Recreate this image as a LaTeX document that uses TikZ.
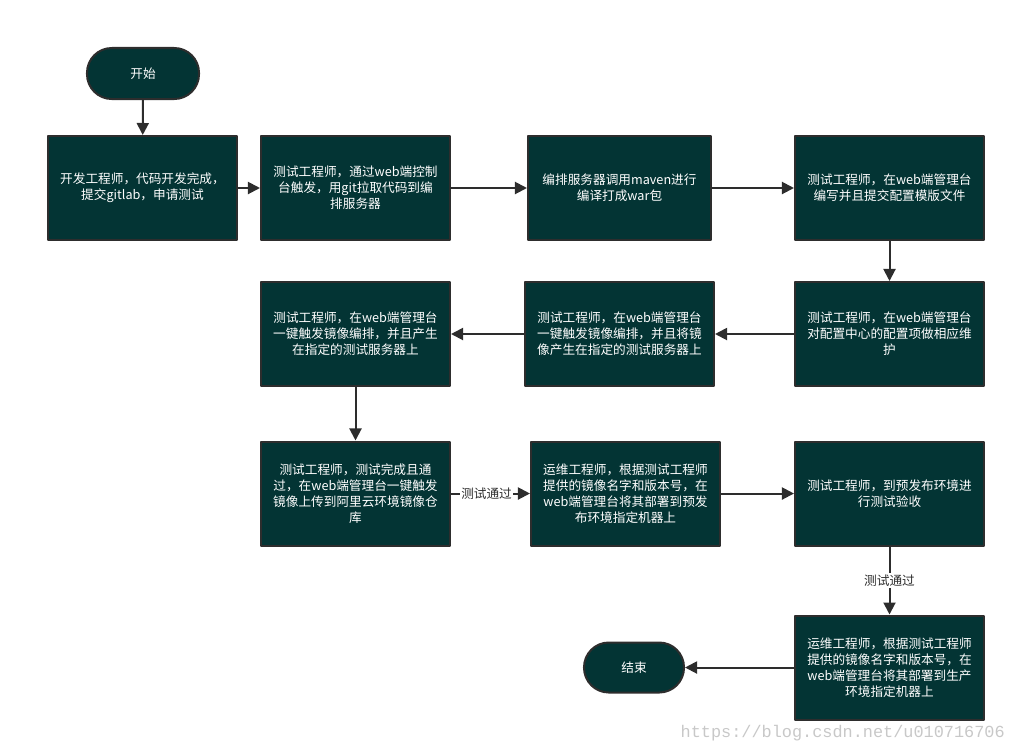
\documentclass[tikz,border=0pt]{standalone}
\usepackage{fontspec}
\newfontfamily\cjk{Noto Sans CJK SC}
\newfontfamily\wmfont{Liberation Mono}
\usetikzlibrary{arrows.meta}
\definecolor{boxfill}{RGB}{3,52,52}
\definecolor{boxline}{RGB}{45,45,45}
\definecolor{wmgrey}{RGB}{200,200,200}

\begin{document}
\begin{tikzpicture}[x=0.025cm, y=-0.025cm, font=\cjk\fontsize{9}{11.4}\selectfont, line join=round,
    >={Triangle[length=3mm, width=3mm]},
    stepbox/.style={draw=boxline, fill=boxfill, line width=0.5mm, text=white, align=center,
        minimum width=4.725cm, minimum height=2.6cm, inner sep=0pt},
    termbox/.style={stepbox, rounded corners=0.62cm, minimum width=2.8cm, minimum height=1.275cm},
    flow/.style={->, draw=boxline, line width=0.5mm},
    passlabel/.style={fill=white, text=boxline, inner sep=1pt}]
    \useasboundingbox (0,0) rectangle (1016,752);
    % row 1
    \node[termbox] (start) at (143,73.5) {开始};
    \node[stepbox] (dev) at (142.5,188) {开发工程师，代码开发完成，\\提交gitlab，申请测试};
    \node[stepbox] (pull) at (355.5,188) {测试工程师，通过web端控制\\台触发，用git拉取代码到编\\排服务器};
    \node[stepbox, minimum width=4.575cm] (build) at (619.5,188) {编排服务器调用maven进行\\编译打成war包};
    \node[stepbox] (tpl) at (889.5,188) {测试工程师，在web端管理台\\编写并且提交配置模版文件};
    % row 2
    \node[stepbox] (cfg) at (889.5,334) {测试工程师，在web端管理台\\对配置中心的配置项做相应维\\护};
    \node[stepbox] (img) at (619.5,334) {测试工程师，在web端管理台\\一键触发镜像编排，并且将镜\\像产生在指定的测试服务器上};
    \node[stepbox] (imgtest) at (355.5,334) {测试工程师，在web端管理台\\一键触发镜像编排，并且产生\\在指定的测试服务器上};
    % row 3
    \node[stepbox] (push) at (355.5,493.5) {测试工程师，测试完成且通\\过，在web端管理台一键触发\\镜像上传到阿里云环境镜像仓\\库};
    \node[stepbox] (predeploy) at (625.5,493.5) {运维工程师，根据测试工程师\\提供的镜像名字和版本号，在\\web端管理台将其部署到预发\\布环境指定机器上};
    \node[stepbox] (accept) at (889.5,493.5) {测试工程师，到预发布环境进\\行测试验收};
    % row 4
    \node[stepbox] (deploy) at (889.5,667.5) {运维工程师，根据测试工程师\\提供的镜像名字和版本号，在\\web端管理台将其部署到生产\\环境指定机器上};
    \node[termbox, minimum width=2.5cm, minimum height=1.25cm] (stop) at (634,667.5) {结束};
    % connectors
    \foreach \a/\b in {start/dev, dev/pull, pull/build, build/tpl, tpl/cfg, cfg/img, img/imgtest, imgtest/push, predeploy/accept, deploy/stop}{
        \draw[flow] (\a) -- (\b);
    }
    \draw[flow] (push) -- (predeploy) node[passlabel, pos=0.45] {测试通过};
    \draw[flow] (accept) -- (deploy) node[passlabel, pos=0.5] {测试通过};
    % watermark
    \node[anchor=east, text=wmgrey, font=\wmfont\fontsize{12}{12}\selectfont, inner sep=0pt] (mark) at (1005,733) {https://blog.csdn.net/u010716706};
\end{tikzpicture}
\end{document}
